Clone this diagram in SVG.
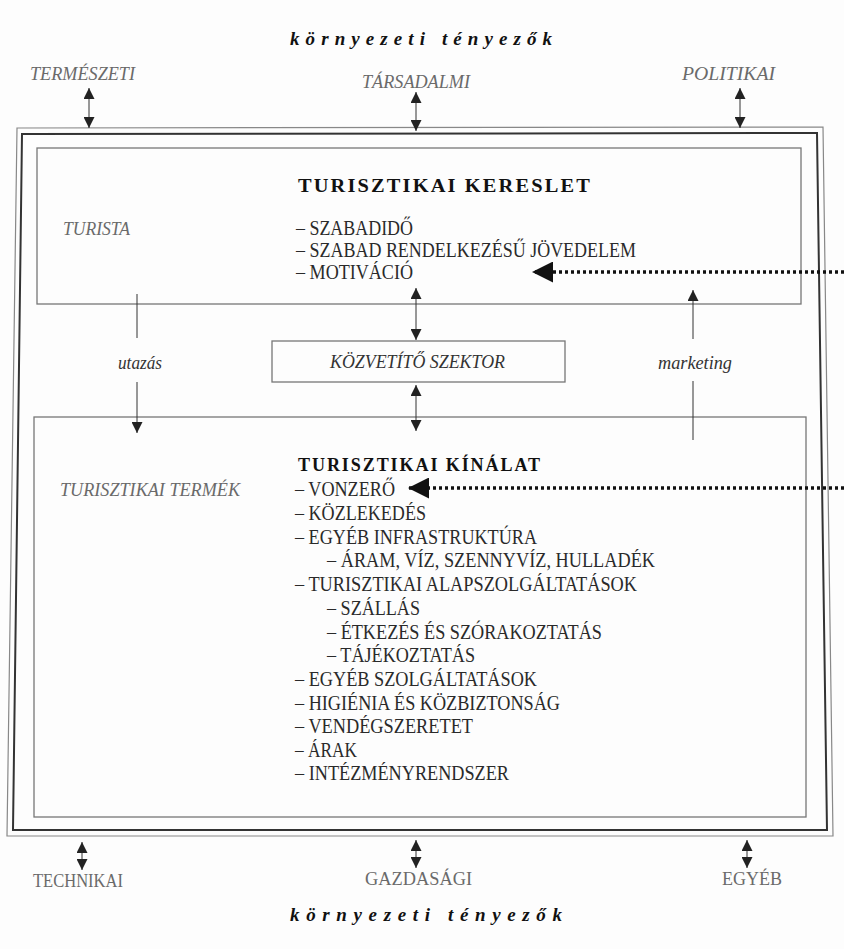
<svg xmlns="http://www.w3.org/2000/svg" width="844" height="949" viewBox="0 0 844 949">
<style>
text{font-family:"Liberation Serif","DejaVu Serif",serif;}
.t{font-size:20px;fill:#2a2a2a;}
.g{font-size:19px;fill:#6a6a6a;}
.gi{font-size:19px;fill:#6a6a6a;font-style:italic;}
.i{font-size:19px;fill:#333;font-style:italic;}
.h{font-size:19px;fill:#111;font-weight:bold;}
.env{font-size:19px;fill:#111;font-weight:bold;font-style:italic;}
.thin{fill:none;stroke:#888;stroke-width:1.2;}
.box{fill:none;stroke:#777;stroke-width:1.3;}
.thick{fill:none;stroke:#333;stroke-width:2;}
.ln{stroke:#333;stroke-width:1;fill:none;}
.dot{stroke:#111;stroke-width:3.5;stroke-dasharray:3 3;fill:none;}
</style>
<defs>
<marker id="ah" viewBox="0 0 10 10" refX="10" refY="5" markerWidth="11" markerHeight="11" markerUnits="userSpaceOnUse" orient="auto-start-reverse">
<path d="M0,0 L10,5 L0,10 z" fill="#222"/>
</marker>
<marker id="big" viewBox="0 0 10 10" refX="10" refY="5" markerWidth="6" markerHeight="6" orient="auto">
<path d="M0,0 L10,5 L0,10 z" fill="#111"/>
</marker>
</defs>
<rect width="844" height="949" fill="#fdfdfd"/>

<g id="frame">
<polygon class="thin" points="17,128 823,127 833,836 7,836"/>
<polygon class="thick" points="22,134 817,133 827,830 13,830"/>
</g>

<g id="title-top"><text class="env" x="421" y="45" text-anchor="middle" textLength="262" lengthAdjust="spacing">környezeti tényezők</text></g>
<g id="termeszeti"><text class="gi" x="30" y="80" textLength="105" lengthAdjust="spacingAndGlyphs">TERMÉSZETI</text></g>
<g id="tarsadalmi"><text class="gi" x="362" y="88" textLength="108" lengthAdjust="spacingAndGlyphs">TÁRSADALMI</text></g>
<g id="politikai"><text class="gi" x="682" y="80" textLength="93" lengthAdjust="spacingAndGlyphs">POLITIKAI</text></g>

<g id="demand">
<rect class="box" x="37" y="148" width="764" height="156"/>
<text class="h" x="298" y="192" textLength="294" lengthAdjust="spacingAndGlyphs" letter-spacing="2">TURISZTIKAI  KERESLET</text>
<text class="gi" x="63" y="235" textLength="67" lengthAdjust="spacingAndGlyphs">TURISTA</text>
<text class="t" x="296" y="235" textLength="117" lengthAdjust="spacingAndGlyphs">– SZABADIDŐ</text>
<text class="t" x="296" y="257" textLength="340" lengthAdjust="spacingAndGlyphs">– SZABAD RENDELKEZÉSŰ JÖVEDELEM</text>
<text class="t" x="296" y="279" textLength="117" lengthAdjust="spacingAndGlyphs">– MOTIVÁCIÓ</text>
</g>

<g id="kozvetito">
<rect class="box" x="272" y="341" width="293" height="41" stroke="#555"/>
<text class="i" x="330" y="368" textLength="175" lengthAdjust="spacingAndGlyphs">KÖZVETÍTŐ SZEKTOR</text>
</g>

<g id="utazas"><text class="i" x="118" y="369" textLength="44" lengthAdjust="spacingAndGlyphs">utazás</text></g>
<g id="marketing"><text class="i" x="658" y="369" textLength="74" lengthAdjust="spacingAndGlyphs">marketing</text></g>

<g id="supply">
<rect class="box" x="34" y="417" width="772" height="400"/>
<text class="h" x="298" y="471" textLength="244" lengthAdjust="spacingAndGlyphs" letter-spacing="2">TURISZTIKAI  KÍNÁLAT</text>
<text class="gi" x="60" y="496" textLength="180" lengthAdjust="spacingAndGlyphs">TURISZTIKAI TERMÉK</text>
<text class="t" x="295" y="496" textLength="100" lengthAdjust="spacingAndGlyphs">– VONZERŐ</text>
<text class="t" x="295" y="520" textLength="131" lengthAdjust="spacingAndGlyphs">– KÖZLEKEDÉS</text>
<text class="t" x="295" y="544" textLength="242" lengthAdjust="spacingAndGlyphs">– EGYÉB INFRASTRUKTÚRA</text>
<text class="t" x="327" y="567" textLength="328" lengthAdjust="spacingAndGlyphs">– ÁRAM, VÍZ, SZENNYVÍZ, HULLADÉK</text>
<text class="t" x="295" y="591" textLength="342" lengthAdjust="spacingAndGlyphs">– TURISZTIKAI ALAPSZOLGÁLTATÁSOK</text>
<text class="t" x="327" y="615" textLength="93" lengthAdjust="spacingAndGlyphs">– SZÁLLÁS</text>
<text class="t" x="327" y="639" textLength="275" lengthAdjust="spacingAndGlyphs">– ÉTKEZÉS ÉS SZÓRAKOZTATÁS</text>
<text class="t" x="327" y="662" textLength="148" lengthAdjust="spacingAndGlyphs">– TÁJÉKOZTATÁS</text>
<text class="t" x="295" y="686" textLength="242" lengthAdjust="spacingAndGlyphs">– EGYÉB SZOLGÁLTATÁSOK</text>
<text class="t" x="295" y="710" textLength="265" lengthAdjust="spacingAndGlyphs">– HIGIÉNIA ÉS KÖZBIZTONSÁG</text>
<text class="t" x="295" y="733" textLength="178" lengthAdjust="spacingAndGlyphs">– VENDÉGSZERETET</text>
<text class="t" x="295" y="757" textLength="62" lengthAdjust="spacingAndGlyphs">– ÁRAK</text>
<text class="t" x="295" y="780" textLength="214" lengthAdjust="spacingAndGlyphs">– INTÉZMÉNYRENDSZER</text>
</g>

<g id="technikai"><text class="g" x="33" y="887" textLength="90" lengthAdjust="spacingAndGlyphs">TECHNIKAI</text></g>
<g id="gazdasagi"><text class="g" x="365" y="885" textLength="107" lengthAdjust="spacingAndGlyphs">GAZDASÁGI</text></g>
<g id="egyeb"><text class="g" x="722" y="885" textLength="60" lengthAdjust="spacingAndGlyphs">EGYÉB</text></g>
<g id="title-bottom"><text class="env" x="426" y="921" text-anchor="middle" textLength="272" lengthAdjust="spacing">környezeti tényezők</text></g>

<g id="connectors">
<line class="ln" x1="89" y1="88" x2="89" y2="128" marker-start="url(#ah)" marker-end="url(#ah)"/>
<line class="ln" x1="416" y1="92" x2="416" y2="131" marker-start="url(#ah)" marker-end="url(#ah)"/>
<line class="ln" x1="740" y1="88" x2="740" y2="128" marker-start="url(#ah)" marker-end="url(#ah)"/>

<line class="ln" x1="416" y1="288" x2="416" y2="340" marker-start="url(#ah)" marker-end="url(#ah)"/>
<line class="ln" x1="416" y1="385" x2="416" y2="431" marker-start="url(#ah)" marker-end="url(#ah)"/>

<line class="ln" x1="137" y1="294" x2="137" y2="338"/>
<line class="ln" x1="137" y1="382" x2="137" y2="433" marker-end="url(#ah)"/>

<line class="ln" x1="693" y1="339" x2="693" y2="290" marker-end="url(#ah)"/>
<line class="ln" x1="693" y1="381" x2="693" y2="440"/>

<line class="dot" x1="844" y1="272" x2="532" y2="272" marker-end="url(#big)"/>
<line class="dot" x1="844" y1="488" x2="408" y2="488" marker-end="url(#big)"/>

<line class="ln" x1="82" y1="842" x2="82" y2="870" marker-start="url(#ah)" marker-end="url(#ah)"/>
<line class="ln" x1="416" y1="840" x2="416" y2="868" marker-start="url(#ah)" marker-end="url(#ah)"/>
<line class="ln" x1="747" y1="840" x2="747" y2="868" marker-start="url(#ah)" marker-end="url(#ah)"/>
</g>
</svg>
